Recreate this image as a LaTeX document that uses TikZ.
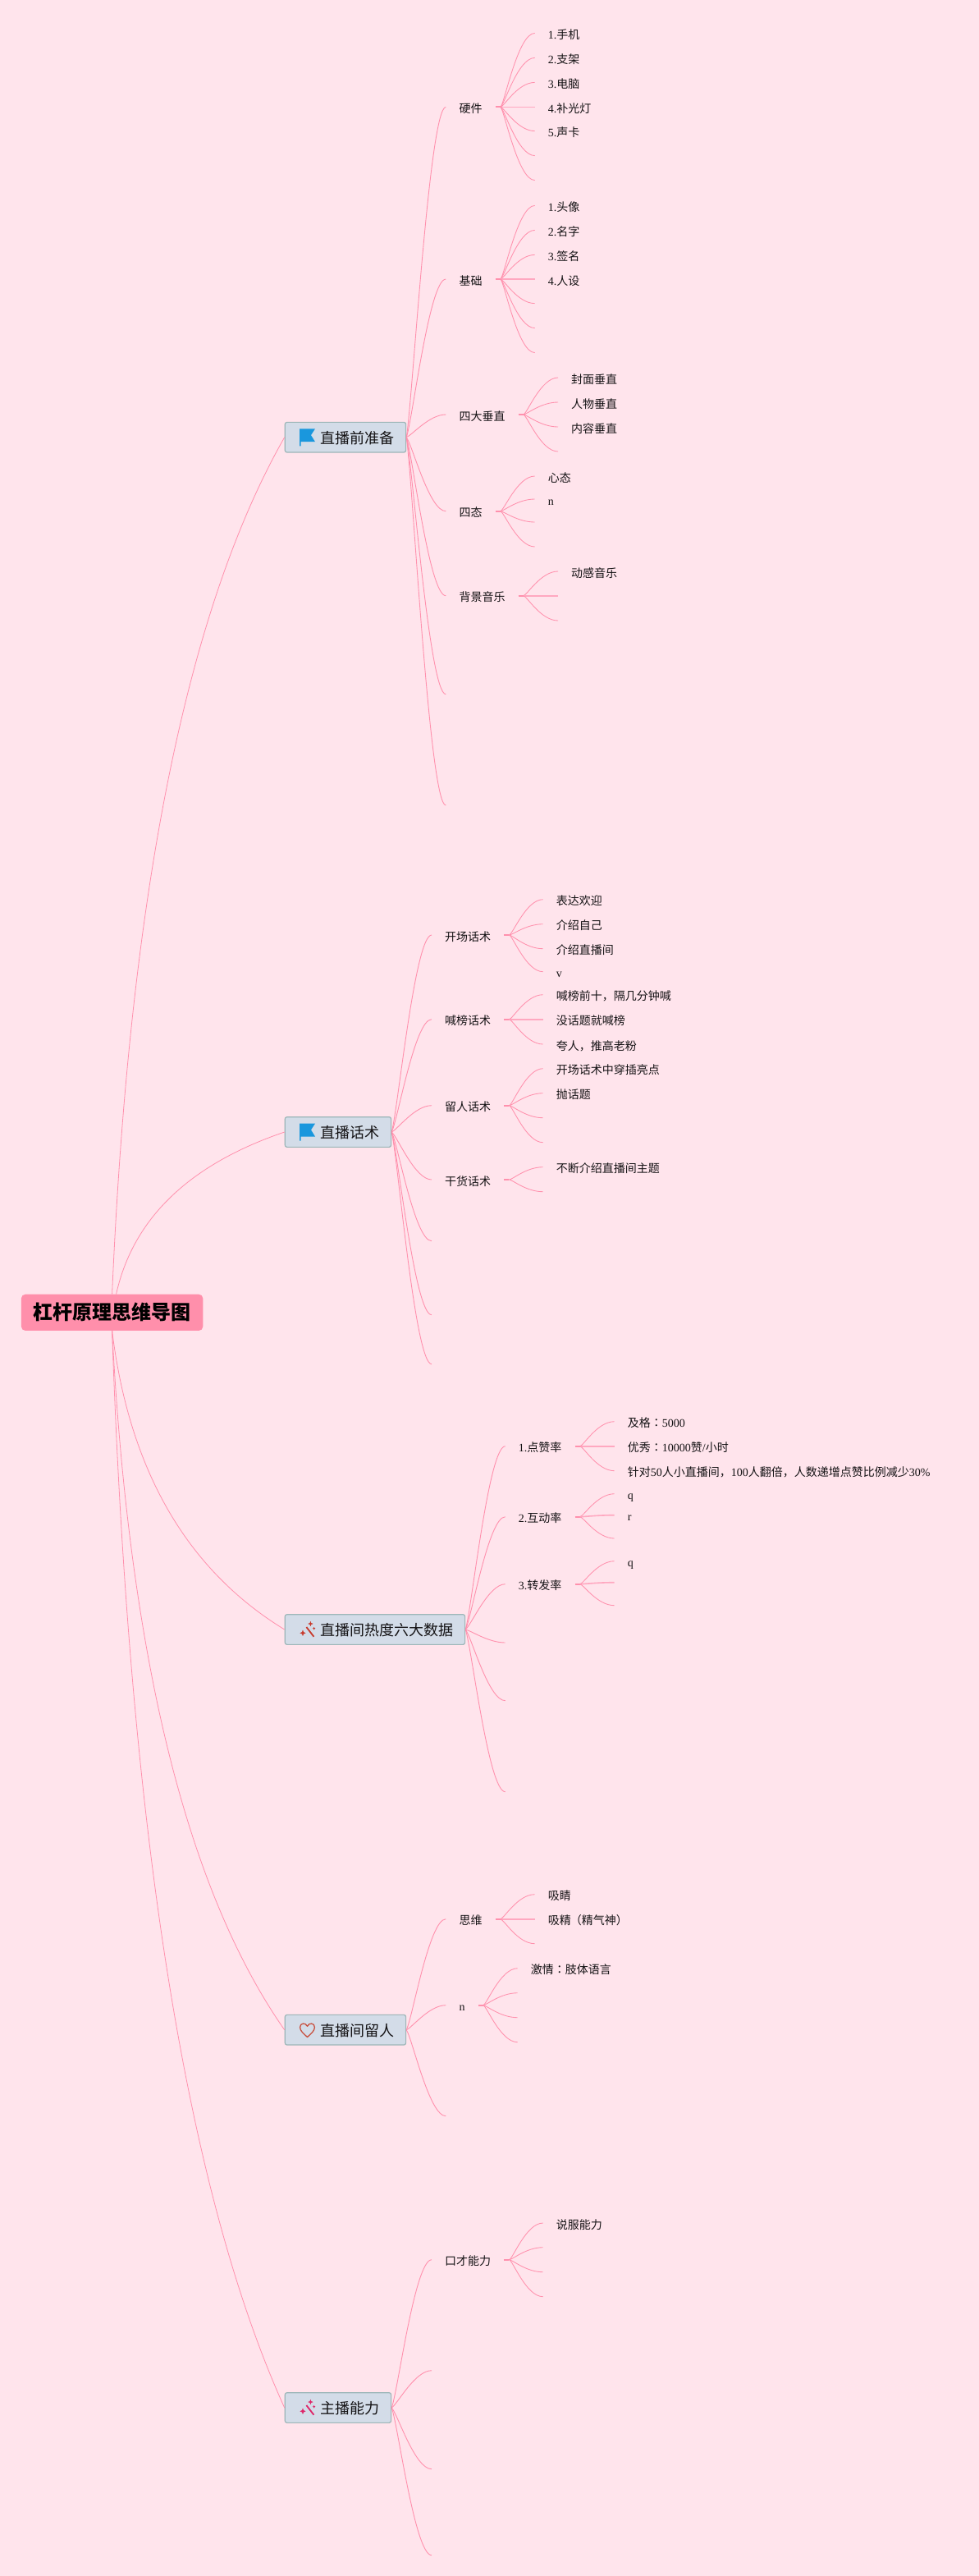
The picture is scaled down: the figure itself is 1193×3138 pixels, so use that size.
\documentclass[tikz,border=0pt]{standalone}
\usepackage{fontspec}
\usetikzlibrary{calc}
\setmainfont{Liberation Serif}
\newfontfamily\cjk{Noto Sans CJK SC}
\newfontfamily\cjktw{Noto Sans CJK TC}
\newcommand\en[1]{{\rmfamily #1}}
\newcommand\cln{{\cjktw ：}}
\definecolor{pagebg}{HTML}{FFE4EC}
\definecolor{wire}{HTML}{FF90AD}
\definecolor{wirelight}{HTML}{FFA8C0}
\definecolor{rootfill}{HTML}{FF8FAB}
\definecolor{topicfill}{HTML}{D3DCE8}
\definecolor{topicline}{HTML}{9DB6B8}
\definecolor{ink}{HTML}{141214}
\definecolor{flagblue}{HTML}{1A97DD}
\definecolor{heartred}{HTML}{C8503F}
\definecolor{wandred}{HTML}{C8392B}
\definecolor{wandpink}{HTML}{DF2468}
\tikzset{
  lbl/.style={anchor=west,inner xsep=16pt,inner ysep=0pt,text height=16pt,text depth=2pt,text=ink,
    font=\cjk\fontsize{14}{16}\selectfont},
  topicbox/.style={anchor=west,rectangle,rounded corners=2.5pt,draw=topicline,fill=topicfill,line width=1.2pt,
    inner xsep=0pt,inner ysep=0pt,minimum height=36.7pt,text height=17pt,text depth=2pt,text=ink,
    font=\cjk\fontsize{18}{20}\selectfont},
  rootbox/.style={anchor=west,rectangle,rounded corners=5pt,fill=rootfill,inner xsep=14.7pt,inner ysep=0pt,
    minimum height=44.3pt,text height=20pt,text depth=2pt,text=black,
    font=\cjk\fontsize{24}{26}\selectfont\bfseries},
  rootwire/.style={draw=wire,line width=0.8pt},
  limb/.style={draw=wire,line width=0.9pt},
  twigline/.style={draw=wire,line width=0.85pt},
  flatline/.style={draw=wirelight,line width=1.6pt},
  stemline/.style={draw=wire,line width=2pt},
  flagicon/.pic={
    \fill[fill=flagblue] (18.3,-10.4) -- (37.3,-10.4) -- (32.3,-2.6) -- (37.3,5.5) -- (19.8,5.5) -- (19.8,10.6) -- (18.3,10.6) -- cycle;
  },
  wandicon/.pic={
    \draw[pic actions,line width=1.8pt] (26.7,-3) -- (35.7,8.7);
    \fill[pic actions] (31.7,-9.6) -- (32.4,-7.7) -- (34.3,-7) -- (32.4,-6.3) -- (31.7,-4.4) -- (31,-6.3) -- (29.1,-7) -- (31,-7.7) -- cycle;
    \fill[pic actions] (22.3,1.2) -- (23.2,3.4) -- (25.4,4.3) -- (23.2,5.2) -- (22.3,7.4) -- (21.4,5.2) -- (19.2,4.3) -- (21.4,3.4) -- cycle;
    \fill[pic actions] (36,-2.6) -- (36.4,-1.7) -- (37.3,-1.3) -- (36.4,-0.9) -- (36,0) -- (35.6,-0.9) -- (34.7,-1.3) -- (35.6,-1.7) -- cycle;
  },
  hearticon/.pic={
    \draw[draw=heartred,line width=1.3pt,line join=round]
      (27.8,8.8) .. controls (23,4.4) and (18.9,1) .. (18.9,-3.2)
      .. controls (18.9,-8.6) and (25.8,-9.2) .. (27.8,-4.4)
      .. controls (29.8,-9.2) and (36.7,-8.6) .. (36.7,-3.2)
      .. controls (36.7,1) and (32.6,4.4) .. (27.8,8.8) -- cycle;
  },
}
% root to topic
\newcommand\trunk[2]{\draw[rootwire] let \p1=(#1),\p2=(#2),\p3=({\x1+0.15*(\x2-\x1)},{\y1+0.7*(\y2-\y1)}) in
  (\p1) .. controls ({\x1+0.6667*(\x3-\x1)},{\y1+0.6667*(\y3-\y1)}) and ({\x2+0.6667*(\x3-\x2)},{\y2+0.6667*(\y3-\y2)}) .. (\p2);}
% topic to subtopic
\newcommand\limbto[2]{\draw[limb] let \p1=(#1.east),\p2=(#2) in
  (\p1) .. controls ({\x1+0.15*(\x2-\x1)},{\y1+0.1*(\y2-\y1)}) and ({\x1+0.58*(\x2-\x1)},\y2) .. (\p2);}
% subtopic to leaf
\newcommand\twig[3][twigline]{\draw[#1] let \p1=($(#2.east)+(6,0)$),\p2=(#3) in
  (\p1) .. controls ({\x1+0.1*(\x2-\x1)},\y1) and ({\x1+0.5*(\x2-\x1)},\y2) .. (\p2);}
\newcommand\stemof[1]{\draw[stemline] (#1.east) -- ++(6,0);}
\begin{document}
\begin{tikzpicture}[x=1pt,y=-1pt]
\fill[pagebg] (0,0) rectangle (1193,3138);
\useasboundingbox (0,0) rectangle (1193,3138);

\node[rootbox] (root) at (25.7,1598.8) {杠杆原理思维导图};

\node[topicbox] (T1) at (346.7,532.7) {\kern43.3pt 直播前准备\kern14pt};
\node[topicbox] (T2) at (346.7,1379) {\kern43.3pt 直播话术\kern14pt};
\node[topicbox] (T3) at (346.7,1985) {\kern43.3pt 直播间热度六大数据\kern14pt};
\node[topicbox] (T4) at (346.7,2472.7) {\kern43.3pt 直播间留人\kern14pt};
\node[topicbox] (T5) at (346.7,2933) {\kern43.3pt 主播能力\kern14pt};

\pic at (T1.west) {flagicon};
\pic at (T2.west) {flagicon};
\pic[draw=wandred,fill=wandred] at (T3.west) {wandicon};
\pic at (T4.west) {hearticon};
\pic[draw=wandpink,fill=wandpink] at (T5.west) {wandicon};

\trunk{root.north}{T1.west}
\trunk{$(root.north)+(5,0)$}{T2.west}
\trunk{root.south}{T3.west}
\trunk{root.south}{T4.west}
\trunk{root.south}{T5.west}

% ---------- T1
\node[lbl] (a1) at (543.3,130.4) {硬件};
\node[lbl] (a2) at (543.3,340) {基础};
\node[lbl] (a3) at (543.3,505) {四大垂直};
\node[lbl] (a4) at (543.3,622.7) {四态};
\node[lbl] (a5) at (543.3,725.7) {背景音乐};
\coordinate (a6) at (543.3,845.7);
\coordinate (a7) at (543.3,981);
\limbto{T1}{a1.west}\limbto{T1}{a2.west}\limbto{T1}{a3.west}\limbto{T1}{a4.west}\limbto{T1}{a5.west}\limbto{T1}{a6}\limbto{T1}{a7}
\stemof{a1}\stemof{a2}\stemof{a3}\stemof{a4}\stemof{a5}

\node[lbl] (a11) at (651.7,40.4) {\en{1.}手机};
\node[lbl] (a12) at (651.7,70.4) {\en{2.}支架};
\node[lbl] (a13) at (651.7,100.4) {\en{3.}电脑};
\node[lbl] (a14) at (651.7,130.4) {\en{4.}补光灯};
\node[lbl] (a15) at (651.7,159.6) {\en{5.}声卡};
\coordinate (a16) at (651.7,189.6);
\coordinate (a17) at (651.7,219.6);
\twig{a1}{a11.west}\twig{a1}{a12.west}\twig{a1}{a13.west}\twig[flatline]{a1}{a14.west}\twig{a1}{a15.west}\twig{a1}{a16}\twig{a1}{a17}

\node[lbl] (a21) at (651.7,250.4) {\en{1.}头像};
\node[lbl] (a22) at (651.7,280.4) {\en{2.}名字};
\node[lbl] (a23) at (651.7,310.4) {\en{3.}签名};
\node[lbl] (a24) at (651.7,340) {\en{4.}人设};
\coordinate (a25) at (651.7,369.6);
\coordinate (a26) at (651.7,399.6);
\coordinate (a27) at (651.7,429.6);
\twig{a2}{a21.west}\twig{a2}{a22.west}\twig{a2}{a23.west}\twig[flatline]{a2}{a24.west}\twig{a2}{a25}\twig{a2}{a26}\twig{a2}{a27}

\node[lbl] (a31) at (680,460) {封面垂直};
\node[lbl] (a32) at (680,490) {人物垂直};
\node[lbl] (a33) at (680,520) {内容垂直};
\coordinate (a34) at (680,550);
\twig{a3}{a31.west}\twig{a3}{a32.west}\twig{a3}{a33.west}\twig{a3}{a34}

\node[lbl] (a41) at (651.7,580) {心态};
\node[lbl] (a42) at (651.7,608) {\en{n}};
\coordinate (a43) at (651.7,636);
\coordinate (a44) at (651.7,666);
\twig{a4}{a41.west}\twig{a4}{a42.west}\twig{a4}{a43}\twig{a4}{a44}

\node[lbl] (a51) at (680,696) {动感音乐};
\coordinate (a52) at (680,725.7);
\coordinate (a53) at (680,756);
\twig{a5}{a51.west}\twig[flatline]{a5}{a52}\twig{a5}{a53}

% ---------- T2
\node[lbl] (b1) at (526,1139) {开场话术};
\node[lbl] (b2) at (526,1241.7) {喊榜话术};
\node[lbl] (b3) at (526,1346.7) {留人话术};
\node[lbl] (b4) at (526,1437) {干货话术};
\coordinate (b5) at (526,1511.7);
\coordinate (b6) at (526,1601.7);
\coordinate (b7) at (526,1661.7);
\limbto{T2}{b1.west}\limbto{T2}{b2.west}\limbto{T2}{b3.west}\limbto{T2}{b4.west}\limbto{T2}{b5}\limbto{T2}{b6}\limbto{T2}{b7}
\stemof{b1}\stemof{b2}\stemof{b3}\stemof{b4}

\node[lbl] (b11) at (661.7,1095.7) {表达欢迎};
\node[lbl] (b12) at (661.7,1125.7) {介绍自己};
\node[lbl] (b13) at (661.7,1155.7) {介绍直播间};
\node[lbl] (b14) at (661.7,1183.7) {\en{v}};
\twig{b1}{b11.west}\twig{b1}{b12.west}\twig{b1}{b13.west}\twig{b1}{b14.west}

\node[lbl] (b21) at (661.7,1211.7) {喊榜前十，隔几分钟喊};
\node[lbl] (b22) at (661.7,1241.7) {没话题就喊榜};
\node[lbl] (b23) at (661.7,1272) {夸人，推高老粉};
\twig{b2}{b21.west}\twig[flatline]{b2}{b22.west}\twig{b2}{b23.west}

\node[lbl] (b31) at (661.7,1301.7) {开场话术中穿插亮点};
\node[lbl] (b32) at (661.7,1331.7) {抛话题};
\coordinate (b33) at (661.7,1361.7);
\coordinate (b34) at (661.7,1391.7);
\twig{b3}{b31.west}\twig{b3}{b32.west}\twig{b3}{b33}\twig{b3}{b34}

\node[lbl] (b41) at (661.7,1421.7) {不断介绍直播间主题};
\coordinate (b42) at (661.7,1451.7);
\twig{b4}{b41.west}\twig{b4}{b42}

% ---------- T3
\node[lbl] (c1) at (615.7,1761.7) {\en{1.}点赞率};
\node[lbl] (c2) at (615.7,1847.7) {\en{2.}互动率};
\node[lbl] (c3) at (615.7,1929.7) {\en{3.}转发率};
\coordinate (c4) at (615.7,2001);
\coordinate (c5) at (615.7,2071.7);
\coordinate (c6) at (615.7,2182.7);
\limbto{T3}{c1.west}\limbto{T3}{c2.west}\limbto{T3}{c3.west}\limbto{T3}{c4}\limbto{T3}{c5}\limbto{T3}{c6}
\stemof{c1}\stemof{c2}\stemof{c3}

\node[lbl] (c11) at (748.7,1731.7) {及格\cln\en{5000}};
\node[lbl] (c12) at (748.7,1761.7) {优秀\cln\en{10000}赞\en{/}小时};
\node[lbl] (c13) at (748.7,1791.7) {针对\en{50}人小直播间，\en{100}人翻倍，人数递增点赞比例减少\en{30\%}};
\twig{c1}{c11.west}\twig[flatline]{c1}{c12.west}\twig{c1}{c13.west}

\node[lbl] (c21) at (748.7,1819.7) {\en{q}};
\node[lbl] (c22) at (748.7,1845.7) {\en{r}};
\coordinate (c23) at (748.7,1874);
\twig{c2}{c21.west}\twig[flatline]{c2}{c22.west}\twig{c2}{c23}

\node[lbl] (c31) at (748.7,1901.7) {\en{q}};
\coordinate (c32) at (748.7,1927.7);
\coordinate (c33) at (748.7,1955.7);
\twig{c3}{c31.west}\twig[flatline]{c3}{c32}\twig{c3}{c33}

% ---------- T4
\node[lbl] (d1) at (543.3,2337.7) {思维};
\node[lbl] (d2) at (543.3,2442.7) {\en{n}};
\coordinate (d3) at (543.3,2577.7);
\limbto{T4}{d1.west}\limbto{T4}{d2.west}\limbto{T4}{d3}
\stemof{d1}\stemof{d2}

\node[lbl] (d11) at (651.7,2307.7) {吸睛};
\node[lbl] (d12) at (651.7,2337.7) {吸精\kern-1pt（精气神）};
\coordinate (d13) at (651.7,2367.7);
\twig{d1}{d11.west}\twig[flatline]{d1}{d12.west}\twig{d1}{d13}

\node[lbl] (d21) at (630.7,2397.7) {激情\cln 肢体语言};
\coordinate (d22) at (630.7,2427.7);
\coordinate (d23) at (630.7,2457.7);
\coordinate (d24) at (630.7,2487.7);
\twig{d2}{d21.west}\twig{d2}{d22}\twig{d2}{d23}\twig{d2}{d24}

% ---------- T5
\node[lbl] (e1) at (526,2752.7) {口才能力};
\coordinate (e2) at (526,2887.7);
\coordinate (e3) at (526,3007.7);
\coordinate (e4) at (526,3112.7);
\limbto{T5}{e1.west}\limbto{T5}{e2}\limbto{T5}{e3}\limbto{T5}{e4}
\stemof{e1}

\node[lbl] (e11) at (661.7,2708) {说服能力};
\coordinate (e12) at (661.7,2737.7);
\coordinate (e13) at (661.7,2767.7);
\coordinate (e14) at (661.7,2797.7);
\twig{e1}{e11.west}\twig{e1}{e12}\twig{e1}{e13}\twig{e1}{e14}
\end{tikzpicture}
\end{document}
